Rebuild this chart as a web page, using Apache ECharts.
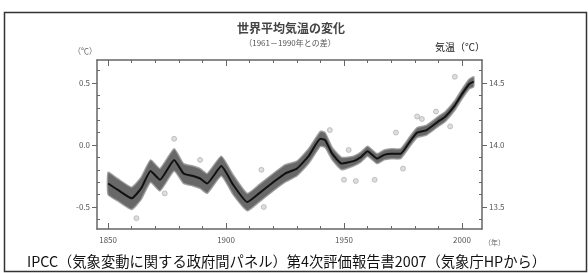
<!DOCTYPE html>
<html>
<head>
<meta charset="utf-8">
<script src="https://cdn.jsdelivr.net/npm/echarts@6/dist/echarts.min.js"></script>
<style>
  html, body { margin: 0; padding: 0; background: #fff; }
  #chart { width: 588px; height: 273px; }
</style>
</head>
<body>
<div id="chart"></div>
<script>
// 平滑曲線（1961-1990年平均との差, ℃）
var smoothYears  = [1850, 1854, 1860, 1864, 1868, 1872, 1878, 1882, 1886, 1889, 1892, 1898, 1903, 1909, 1914, 1920, 1925, 1930, 1935, 1940, 1942, 1945, 1949, 1954, 1957, 1960, 1964, 1967, 1970, 1974, 1978, 1981, 1985, 1990, 1993, 1997, 2000, 2003, 2005];
var smoothValues = [-0.31, -0.36, -0.43, -0.35, -0.21, -0.28, -0.12, -0.23, -0.25, -0.27, -0.31, -0.17, -0.32, -0.46, -0.39, -0.30, -0.23, -0.19, -0.09, 0.05, 0.04, -0.07, -0.15, -0.13, -0.10, -0.05, -0.11, -0.08, -0.07, -0.07, 0.03, 0.10, 0.12, 0.19, 0.23, 0.32, 0.41, 0.49, 0.51];
// 不確実性の幅（下限・上限）
var bandLower = [-0.40, -0.45, -0.52, -0.44, -0.30, -0.37, -0.21, -0.31, -0.33, -0.35, -0.39, -0.25, -0.40, -0.53, -0.46, -0.37, -0.30, -0.25, -0.15, -0.01, -0.02, -0.12, -0.20, -0.17, -0.14, -0.09, -0.15, -0.12, -0.11, -0.11, -0.01, 0.06, 0.08, 0.15, 0.19, 0.28, 0.37, 0.45, 0.47];
var bandUpper = [-0.22, -0.27, -0.34, -0.26, -0.12, -0.19, -0.03, -0.15, -0.17, -0.19, -0.23, -0.09, -0.24, -0.39, -0.32, -0.23, -0.16, -0.13, -0.03, 0.11, 0.10, -0.02, -0.10, -0.09, -0.06, -0.01, -0.07, -0.04, -0.03, -0.03, 0.07, 0.14, 0.16, 0.23, 0.27, 0.36, 0.45, 0.53, 0.55];
// 年平均値（帯の外に見える点）
var annualYears  = [1862, 1874, 1878, 1889, 1915, 1916, 1944, 1950, 1952, 1955, 1963, 1972, 1975, 1981, 1983, 1989, 1995, 1997];
var annualValues = [-0.59, -0.39, 0.05, -0.12, -0.20, -0.50, 0.12, -0.28, -0.04, -0.29, -0.28, 0.10, -0.19, 0.23, 0.21, 0.27, 0.15, 0.55];
// 目盛
var xLabelValues = [1850, 1900, 1950, 2000];
var xMinorValues = [1860, 1870, 1880, 1890, 1910, 1920, 1930, 1940, 1960, 1970, 1980, 1990];
var yLabelValues = [-0.5, 0, 0.5];
var yLeftLabels  = ['-0.5', '0.0', '0.5'];
var yRightLabels = ['13.5', '14.0', '14.5'];
var yMinorValues = [-0.6, -0.4, -0.3, -0.2, -0.1, 0.1, 0.2, 0.3, 0.4, 0.6];

var FONT = '"Noto Sans CJK JP", "Noto Sans", sans-serif';
var AXIS_COLOR = '#666';

var myChart = echarts.init(document.getElementById('chart'));

function pairs(xs, ys) {
  return xs.map(function (x, i) { return [x, ys[i]]; });
}

var gridRect = { left: 97, top: 60, width: 385, height: 169 };
var xMin = 1845.3, xMax = 2008.5;
var yMin = -0.677, yMax = 0.685;

function xAxisOf(grid, pos, ticks, len, labels) {
  return {
    type: 'value', gridIndex: grid, position: pos, min: xMin, max: xMax,
    splitLine: { show: false },
    axisLine: { show: grid === 0, onZero: false, lineStyle: { color: AXIS_COLOR, width: 1.5 } },
    axisTick: { show: true, inside: true, length: len, customValues: ticks, lineStyle: { color: AXIS_COLOR, width: 1 } },
    axisLabel: labels ? {
      show: true, customValues: xLabelValues, margin: 7,
      color: '#555', fontSize: 8, fontFamily: FONT,
      formatter: function (v) { return String(v); }
    } : { show: false }
  };
}

function yAxisOf(grid, pos, ticks, len, inside, labels) {
  return {
    type: 'value', gridIndex: grid, position: pos, min: yMin, max: yMax,
    splitLine: { show: false },
    axisLine: { show: grid === 0, onZero: false, lineStyle: { color: AXIS_COLOR, width: 1.5 } },
    axisTick: { show: true, inside: inside, length: len, customValues: ticks, lineStyle: { color: AXIS_COLOR, width: 1 } },
    axisLabel: labels ? {
      show: true, customValues: yLabelValues, margin: 7,
      color: '#555', fontSize: 8, fontFamily: FONT,
      formatter: function (v) {
        var i = yLabelValues.indexOf(v);
        return labels[i];
      }
    } : { show: false }
  };
}

// 帯（上限→下限の多角形）を軸の座標系で描く
function renderBand(params, api) {
  if (params.dataIndex !== 0) return;
  var pts = [];
  for (var i = 0; i < smoothYears.length; i++) {
    pts.push(api.coord([smoothYears[i], bandUpper[i]]));
  }
  for (var j = smoothYears.length - 1; j >= 0; j--) {
    pts.push(api.coord([smoothYears[j], bandLower[j]]));
  }
  return {
    type: 'polygon',
    shape: { points: pts, smooth: 0.15 },
    style: { fill: '#4d4d4d', opacity: 0.85, stroke: '#999', lineWidth: 1.5 }
  };
}

var option = {
  backgroundColor: '#fff',
  animation: false,
  grid: [
    Object.assign({}, gridRect),
    Object.assign({}, gridRect)
  ],
  xAxis: [
    xAxisOf(0, 'bottom', xLabelValues, 6, true),
    xAxisOf(0, 'top', xLabelValues, 6, false),
    xAxisOf(1, 'bottom', xMinorValues, 3, false),
    xAxisOf(1, 'top', xMinorValues, 3, false)
  ],
  yAxis: [
    yAxisOf(0, 'left', yLabelValues, 5, false, yLeftLabels),
    yAxisOf(0, 'right', yLabelValues, 5, false, yRightLabels),
    yAxisOf(1, 'left', yMinorValues, 3, true, null),
    yAxisOf(1, 'right', yMinorValues, 3, true, null)
  ],
  series: [
    {
      name: 'band', type: 'custom', xAxisIndex: 0, yAxisIndex: 0,
      renderItem: renderBand,
      data: pairs(smoothYears, smoothValues)
    },
    {
      name: 'annual', type: 'scatter', xAxisIndex: 0, yAxisIndex: 0,
      symbol: 'circle', symbolSize: 5,
      itemStyle: { color: '#d4d4d4', borderColor: '#aaa', borderWidth: 0.8 },
      data: pairs(annualYears, annualValues)
    },
    {
      name: 'smooth', type: 'line', xAxisIndex: 0, yAxisIndex: 0,
      smooth: 0.15, symbol: 'none',
      lineStyle: { color: '#111', width: 2 },
      data: pairs(smoothYears, smoothValues)
    }
  ],
  graphic: [
    {
      type: 'rect', silent: true,
      shape: { x: 4.5, y: 12.5, width: 582, height: 259 },
      style: { fill: 'none', stroke: '#333', lineWidth: 1.5 }
    },
    {
      type: 'text', silent: true,
      style: { text: '世界平均気温の変化', x: 291, y: 28, textAlign: 'center', textVerticalAlign: 'middle',
               font: 'bold 12px ' + FONT, fill: '#444' }
    },
    {
      type: 'text', silent: true,
      style: { text: '（1961－1990年との差）', x: 290, y: 43, textAlign: 'center', textVerticalAlign: 'middle',
               font: '8px ' + FONT, fill: '#555' }
    },
    {
      type: 'text', silent: true,
      style: { text: '気温（℃）', x: 460, y: 47, textAlign: 'center', textVerticalAlign: 'middle',
               font: '10px ' + FONT, fill: '#222' }
    },
    {
      type: 'text', silent: true,
      style: { text: '（℃）', x: 85, y: 51, textAlign: 'center', textVerticalAlign: 'middle',
               font: '8px ' + FONT, fill: '#666' }
    },
    {
      type: 'text', silent: true,
      style: { text: '（年）', x: 484, y: 242, textAlign: 'left', textVerticalAlign: 'middle',
               font: '7px ' + FONT, fill: '#666' }
    },
    {
      type: 'text', silent: true,
      style: { text: 'IPCC（気象変動に関する政府間パネル）第4次評価報告書2007（気象庁HPから）', x: 27, y: 262,
               textAlign: 'left', textVerticalAlign: 'middle', font: '14.3px ' + FONT, fill: '#111' }
    }
  ]
};

myChart.setOption(option);
window.addEventListener('resize', function () { myChart.resize(); });
</script>
</body>
</html>
